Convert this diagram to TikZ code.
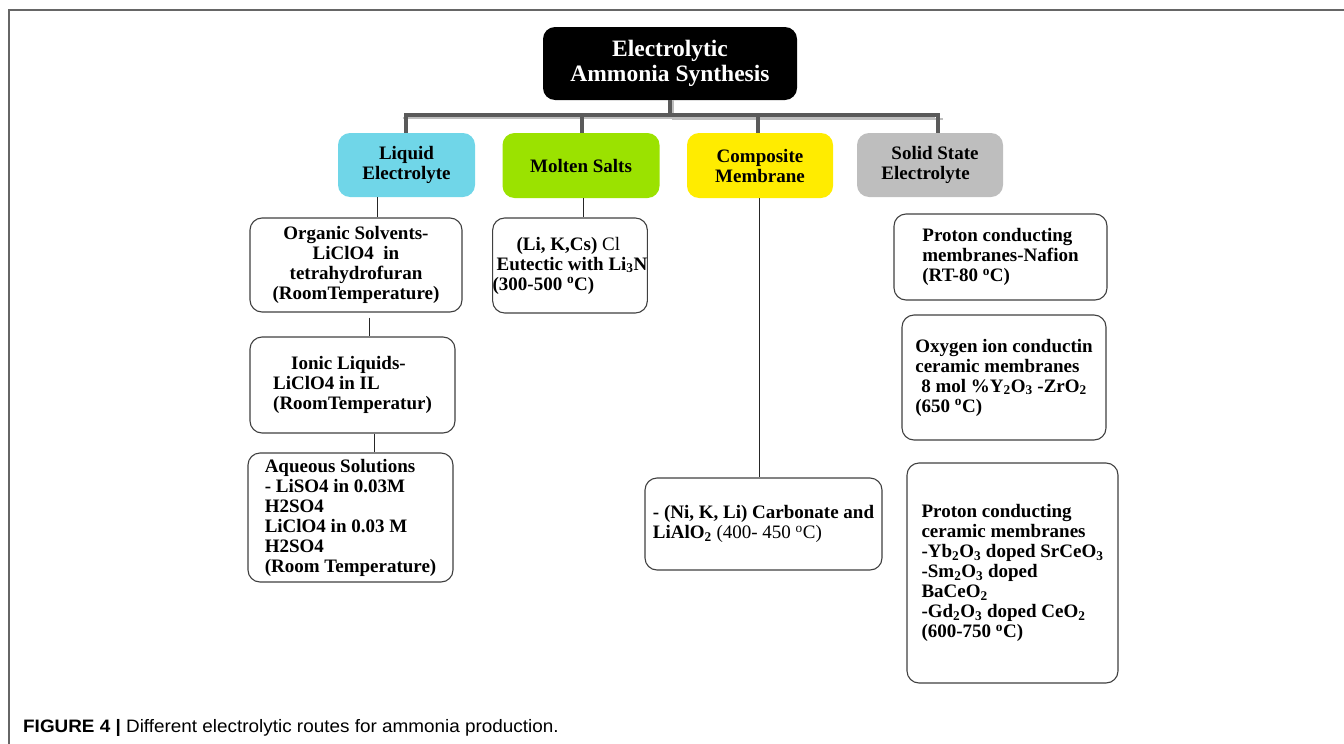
\documentclass[tikz,border=0pt]{standalone}
\usepackage{fontspec}
\setmainfont{Liberation Serif}
\newfontfamily\capfont[FakeStretch=1.05]{Liberation Sans}
\definecolor{cliq}{RGB}{112,214,232}
\definecolor{cmol}{RGB}{155,226,0}
\definecolor{ccomp}{RGB}{255,236,0}
\definecolor{csolid}{RGB}{190,190,190}
\definecolor{busdark}{RGB}{90,90,90}
\definecolor{buslight}{RGB}{190,190,190}
\begin{document}
\begin{tikzpicture}[x=1pt,y=-1pt,
  txt/.style={font=\fontsize{19}{20}\selectfont\bfseries},
  cat/.style={txt, rounded corners=12pt, inner sep=0pt, align=center, text=black},
  leaf/.style={txt, draw=black!75, line width=1.1pt, rounded corners=12pt, inner sep=0pt, fill=white},
  link/.style={draw=black!85, line width=1pt},
  busl/.style={draw=busdark, line width=3.5pt},
  shade/.style={draw=buslight, line width=2pt},
  frame/.style={draw=black!60, line width=1.5pt}]
\useasboundingbox (0,0) rectangle (1344,744);
\draw[frame] (9,744) -- (9,10) -- (1344,10);

% root
\node[fill=black, rounded corners=12pt, minimum width=254pt, minimum height=73pt, inner sep=0pt,
      text=white, align=center, font=\fontsize{23.5}{25}\selectfont\bfseries] (root) at (670,63.5)
  {Electrolytic\\Ammonia Synthesis};

% categories
\node[cat, fill=cliq, minimum width=137pt, minimum height=64pt] (liq) at (406.5,165) {Liquid\\Electrolyte};
\node[cat, fill=cmol, minimum width=157pt, minimum height=65pt] (mol) at (581,165.5) {Molten Salts};
\node[cat, fill=ccomp, minimum width=146pt, minimum height=65pt] (comp) at (760,165.5) {Composite\\Membrane};
\node[cat, fill=csolid, minimum width=146pt, minimum height=64pt, align=left] (sol) at (930,165) {\hspace*{10pt}Solid State\\Electrolyte};

% bus
\coordinate (b0) at (670,115);
\coordinate (b1) at (406,115);
\coordinate (b2) at (582,115);
\coordinate (b3) at (758,115);
\coordinate (b4) at (938,115);
\draw[shade] (root.south) ++(3,0) -- ++(0,19) -- ++(270,0);
\draw[shade] ([xshift=-3pt]b1) ++(0,3) -- ++(532,0);
\draw[busl] (root.south) -- (b0);
\draw[busl] (b1 |- liq.north) -- (b1) -- (b4) -- (b4 |- sol.north);
\draw[busl] (b2) -- (b2 |- mol.north);
\draw[busl] (b3) -- (b3 |- comp.north);

% leaves
\node[leaf, minimum width=212pt, minimum height=94pt, align=center] (org) at (356,265)
  {Organic Solvents-\\LiClO4~~in\\tetrahydrofuran\\(RoomTemperature)};
\node[leaf, minimum width=205pt, minimum height=96pt, align=left] (ion) at (352.5,385)
  {\hspace*{18pt}Ionic Liquids-\\LiClO4 in IL\\(RoomTemperatur)};
\node[leaf, minimum width=205pt, minimum height=129pt, align=left] (aq) at (350.5,517.5)
  {Aqueous Solutions\\- LiSO4 in 0.03M\\H2SO4\\LiClO4 in 0.03 M\\H2SO4\\(Room Temperature)};
\node[leaf, minimum width=150pt, minimum height=95pt, align=left] (mch) at (570,265.5)
  {\hspace*{24pt}(Li, K,Cs) {\mdseries Cl}\\\hspace*{4pt}Eutectic with Li\textsubscript{3}N\\(300-500 \textsuperscript{o}C)};
\node[leaf, minimum width=237pt, minimum height=92pt, align=left] (cch) at (763.5,524)
  {- (Ni, K, Li) Carbonate and\\LiAlO\textsubscript{2} {\mdseries (400- 450 \textsuperscript{o}C)}};
\node[leaf, minimum width=213pt, minimum height=86pt, align=left] (pn) at (1000.5,257)
  {Proton conducting\\membranes-Nafion\\(RT-80 \textsuperscript{o}C)};
\node[leaf, minimum width=204pt, minimum height=125pt, align=left] (ox) at (1004,377.5)
  {Oxygen ion conductin\\ceramic membranes\\\hspace*{6pt}8 mol \%Y\textsubscript{2}O\textsubscript{3} -ZrO\textsubscript{2}\\(650 \textsuperscript{o}C)};
\node[leaf, minimum width=211pt, minimum height=220pt, align=left] (pc) at (1012.5,573)
  {Proton conducting\\ceramic membranes\\-Yb\textsubscript{2}O\textsubscript{3} doped SrCeO\textsubscript{3}\\-Sm\textsubscript{2}O\textsubscript{3} doped\\BaCeO\textsubscript{2}\\-Gd\textsubscript{2}O\textsubscript{3} doped CeO\textsubscript{2}\\(600-750 \textsuperscript{o}C)};

% thin links
\coordinate (x1) at (377,0);
\coordinate (x2) at (369,0);
\coordinate (x3) at (374,0);
\coordinate (x4) at (583,0);
\coordinate (x5) at (759,0);
\draw[link] (x1 |- liq.south) -- (x1 |- org.north);
\draw[link] (x2 |- org.south) ++(0,5) -- (x2 |- ion.north);
\draw[link] (x3 |- ion.south) -- (x3 |- aq.north);
\draw[link] (x4 |- mol.south) -- (x4 |- mch.north);
\draw[link] (x5 |- comp.south) -- (x5 |- cch.north);

% caption
\node[anchor=west, inner sep=0pt, font=\capfont\fontsize{18}{20}\selectfont] (cap) at (23,728)
  {\textbf{FIGURE 4 |} Different electrolytic routes for ammonia production.};
\end{tikzpicture}
\end{document}
